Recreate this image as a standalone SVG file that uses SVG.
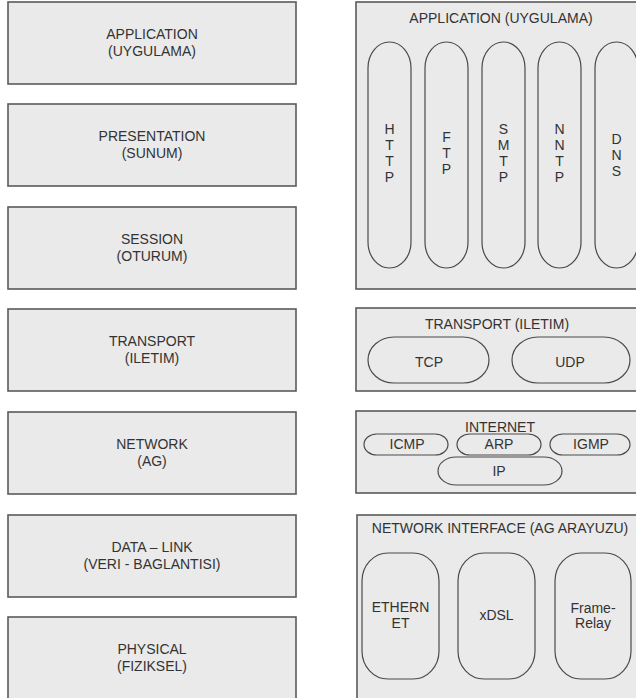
<svg xmlns="http://www.w3.org/2000/svg" width="636" height="698" viewBox="0 0 636 698">
<style>
.box{fill:#eaeaea;stroke:#5a5a5a;stroke-width:1.6}
.pill{fill:#eaeaea;stroke:#4a4a4a;stroke-width:1.2}
text{font-family:"Liberation Sans",Arial,sans-serif;font-size:14px;fill:#333;text-anchor:middle}
</style>
<rect width="636" height="698" fill="#fff"/>
<g id="osi-application"><rect class="box" x="8" y="2" width="288" height="82"/><text x="152" y="39">APPLICATION</text><text x="152" y="56">(UYGULAMA)</text></g>
<g id="osi-presentation"><rect class="box" x="8" y="104" width="288" height="82"/><text x="152" y="141">PRESENTATION</text><text x="152" y="158">(SUNUM)</text></g>
<g id="osi-session"><rect class="box" x="8" y="207" width="288" height="82"/><text x="152" y="244">SESSION</text><text x="152" y="261">(OTURUM)</text></g>
<g id="osi-transport"><rect class="box" x="8" y="309" width="288" height="82"/><text x="152" y="346">TRANSPORT</text><text x="152" y="363">(ILETIM)</text></g>
<g id="osi-network"><rect class="box" x="8" y="412" width="288" height="82"/><text x="152" y="449">NETWORK</text><text x="152" y="466">(AG)</text></g>
<g id="osi-datalink"><rect class="box" x="8" y="515" width="288" height="82"/><text x="152" y="552">DATA – LINK</text><text x="152" y="569">(VERI - BAGLANTISI)</text></g>
<g id="osi-physical"><rect class="box" x="8" y="617" width="288" height="90"/><text x="152" y="654">PHYSICAL</text><text x="152" y="671">(FIZIKSEL)</text></g>

<g id="tcpip-application"><rect class="box" x="356" y="2" width="290" height="287"/><text x="501" y="23">APPLICATION (UYGULAMA)</text></g>
<g id="http"><rect class="pill" x="368" y="42" width="43" height="226" rx="21.5" ry="26"/><text x="389.5" y="134">H</text><text x="389.5" y="150">T</text><text x="389.5" y="166">T</text><text x="389.5" y="182">P</text></g>
<g id="ftp"><rect class="pill" x="425" y="42" width="43" height="226" rx="21.5" ry="26"/><text x="446.5" y="142">F</text><text x="446.5" y="158">T</text><text x="446.5" y="174">P</text></g>
<g id="smtp"><rect class="pill" x="482" y="42" width="43" height="226" rx="21.5" ry="26"/><text x="503.5" y="134">S</text><text x="503.5" y="150">M</text><text x="503.5" y="166">T</text><text x="503.5" y="182">P</text></g>
<g id="nntp"><rect class="pill" x="538" y="42" width="43" height="226" rx="21.5" ry="26"/><text x="559.5" y="134">N</text><text x="559.5" y="150">N</text><text x="559.5" y="166">T</text><text x="559.5" y="182">P</text></g>
<g id="dns"><rect class="pill" x="595" y="42" width="43" height="226" rx="21.5" ry="26"/><text x="616.5" y="144">D</text><text x="616.5" y="160">N</text><text x="616.5" y="176">S</text></g>

<g id="tcpip-transport"><rect class="box" x="356" y="308" width="290" height="83"/><text x="497" y="329">TRANSPORT (ILETIM)</text></g>
<g id="tcp"><rect class="pill" x="368" y="337" width="121" height="46" rx="26" ry="23"/><text x="429" y="367">TCP</text></g>
<g id="udp"><rect class="pill" x="512" y="337" width="118" height="46" rx="26" ry="23"/><text x="570" y="367">UDP</text></g>

<g id="tcpip-internet"><rect class="box" x="356" y="411" width="290" height="82"/><text x="500" y="432">INTERNET</text></g>
<g id="icmp"><rect class="pill" x="364" y="434" width="84" height="21" rx="13" ry="10.5"/><text x="407" y="449">ICMP</text></g>
<g id="arp"><rect class="pill" x="457" y="434" width="84" height="21" rx="13" ry="10.5"/><text x="499" y="449">ARP</text></g>
<g id="igmp"><rect class="pill" x="550" y="434" width="80" height="21" rx="13" ry="10.5"/><text x="591" y="449">IGMP</text></g>
<g id="ip"><rect class="pill" x="438" y="457" width="124" height="28" rx="18" ry="14"/><text x="499" y="476">IP</text></g>

<g id="tcpip-netif"><rect class="box" x="357" y="515" width="290" height="200"/><text x="500" y="533">NETWORK INTERFACE (AG ARAYUZU)</text></g>
<g id="ethernet"><rect class="pill" x="362" y="553" width="77" height="126" rx="26" ry="28"/><text x="400.5" y="612">ETHERN</text><text x="400.5" y="628">ET</text></g>
<g id="xdsl"><rect class="pill" x="458" y="553" width="77" height="126" rx="26" ry="28"/><text x="496.5" y="620">xDSL</text></g>
<g id="framerelay"><rect class="pill" x="555" y="553" width="76" height="126" rx="26" ry="28"/><text x="593" y="613">Frame-</text><text x="593" y="628">Relay</text></g>
<g id="connectors"/>
</svg>
